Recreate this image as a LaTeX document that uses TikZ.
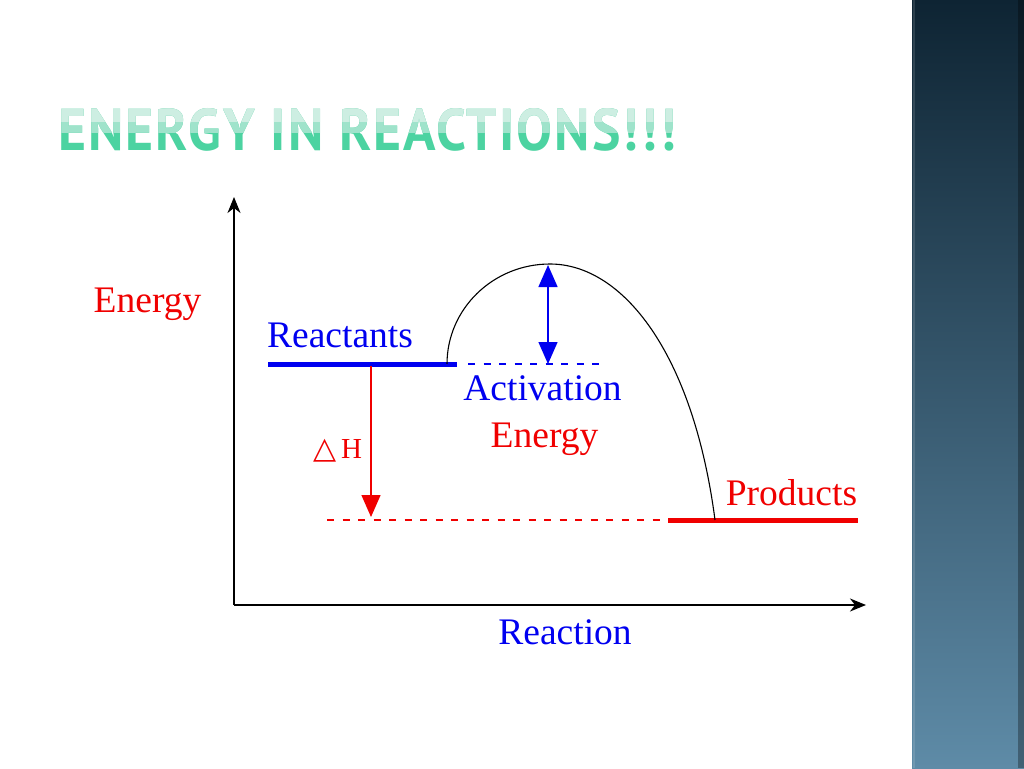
\documentclass[tikz,border=0pt]{standalone}
\usepackage{fontspec}
\usepackage{graphicx}
\setmainfont{Liberation Serif}
\newfontfamily\titlefont[LetterSpace=4]{PT Sans}
\newfontfamily\symfont{DejaVu Sans}
\usetikzlibrary{arrows.meta}
\definecolor{titlebot}{HTML}{4CD3A1}
\definecolor{titlemid}{HTML}{9FE3CB}
\definecolor{titletop}{HTML}{CDEEE2}
\definecolor{striptop}{HTML}{0E2433}
\definecolor{stripmid}{HTML}{3A5F78}
\definecolor{stripbot}{HTML}{5E8BA7}
\definecolor{dblue}{HTML}{0000F0}
\definecolor{dred}{HTML}{F00000}
\begin{document}
\begin{tikzpicture}[x=1pt,y=-1pt,
  lbl/.style={font=\fontsize{37.5}{40}\selectfont, inner sep=0, anchor=base},
  level/.style={line width=5pt},
  guide/.style={line width=1.2pt, dash pattern=on 7pt off 8.5pt},
  axis/.style={line width=1.6pt, -{Stealth[length=16pt,width=13pt,inset=5pt]}},
  bigtip/.style={line width=1.4pt, -{Triangle[length=22pt,width=19pt]}},
  ttl/.style={anchor=south west, inner sep=0}
]
\useasboundingbox (0,0) rectangle (1024,768);
\fill[white] (0,0) rectangle (1024,768);
% side strip
\shade[top color=striptop, middle color=stripmid, bottom color=stripbot] (912,0) rectangle (1024,768);
\fill[white, opacity=0.12] (913,0) rectangle (915,768);
\fill[black, opacity=0.3] (1018,0) rectangle (1024,768);
% title
\newcommand{\titletext}{\resizebox{618pt}{42pt}{\titlefont\bfseries ENERGY IN REACTIONS!\kern0.06em!\kern0.06em!}}
\node[ttl, text=titlebot] (title) at (58,152) {\titletext};
\begin{scope}
  \clip (0,0) rectangle (900,132);
  \node[ttl, text=titlemid] (titleB) at (58,152) {\titletext};
\end{scope}
\begin{scope}
  \clip (0,0) rectangle (900,121);
  \node[ttl, text=titletop] (titleC) at (58,152) {\titletext};
\end{scope}
% coordinates
\coordinate (O) at (234,605);
\coordinate (ytop) at (234,197);
\coordinate (xend) at (866,605);
\coordinate (r1) at (268,364);
\coordinate (r2) at (457,364);
\coordinate (c0) at (447,364);
\coordinate (peak) at (550,264);
\coordinate (c1) at (715,520);
\coordinate (bd1) at (468,364);
\coordinate (bd2) at (602,364);
\coordinate (aetop) at (548,265);
\coordinate (aebot) at (548,364);
\coordinate (dh1) at (371,366);
\coordinate (dh2) at (371,517);
\coordinate (rd1) at (327,520);
\coordinate (rd2) at (666,520);
\coordinate (p1) at (668,520);
\coordinate (p2) at (858,520);
% axes
\draw[axis] (O) -- (ytop);
\draw[axis] (O) -- (xend);
% levels
\draw[level, dblue] (r1) -- (r2);
\draw[level, dred] (p1) -- (p2);
\draw[guide, dblue] (bd1) -- (bd2);
\draw[guide, dred] (rd1) -- (rd2);
% curve
\draw[line width=1.1pt] (c0) .. controls (447,309) and (493,264) .. (peak)
  .. controls (622,264) and (693,352) .. (c1);
% arrows
\draw[bigtip, dblue, {Triangle[length=22pt,width=19pt]}-{Triangle[length=22pt,width=19pt]}] (aetop) -- (aebot);
\draw[bigtip, dred] (dh1) -- (dh2);
% labels
\node[lbl, text=dred] (lenergy) at (147.5,312) {Energy};
\node[lbl, text=dblue] (lreact) at (340,347) {Reactants};
\node[lbl, text=dblue] (lact) at (542.5,400) {Activation};
\node[lbl, text=dred] (lact2) at (544.5,447) {Energy};
\node[lbl, text=dred] (lprod) at (791.5,505) {Products};
\node[lbl, text=dblue] (lreac) at (565,644) {Reaction};
\node[inner sep=0, anchor=base, text=dred, font=\fontsize{29}{32}\selectfont] (ldh) at (338,458) {{\symfont\fontsize{30}{32}\selectfont △}\kern4pt H};
\end{tikzpicture}
\end{document}
